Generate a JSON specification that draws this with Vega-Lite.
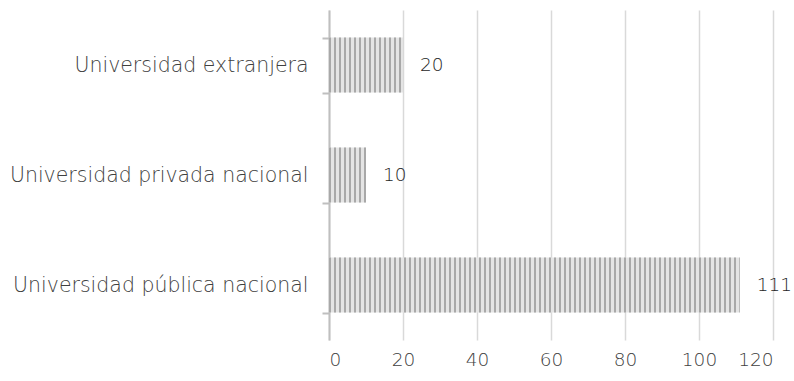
{
  "$schema": "https://vega.github.io/schema/vega-lite/v6.json",
  "width": 444,
  "height": 330,
  "autosize": {"type": "none"},
  "padding": {"left": 329, "top": 10, "right": 21, "bottom": 41},
  "background": "white",
  "config": {"view": {"stroke": null}, "font": "DejaVu Sans"},
  "data": {"values": [
    {"categoria": "Universidad extranjera", "valor": 20},
    {"categoria": "Universidad privada nacional", "valor": 10},
    {"categoria": "Universidad pública nacional", "valor": 111}
  ]},
  "encoding": {
    "y": {"field": "categoria", "type": "nominal", "sort": null, "title": null,
      "scale": {"paddingInner": 0.5, "paddingOuter": 0.25},
      "axis": {"domainColor": "#bfbfbf", "domainWidth": 2, "tickColor": "#bfbfbf", "tickWidth": 2, "tickSize": 7, "tickBand": "extent", "labelPadding": 14, "labelFontSize": 20.5, "labelFontWeight": 300, "labelColor": "#404040", "labelLimit": 400}},
    "x": {"field": "valor", "type": "quantitative", "title": null,
      "scale": {"domain": [0, 120]},
      "axis": {"values": [0, 20, 40, 60, 80, 100, 120], "domain": false, "ticks": false, "gridColor": "#d9d9d9", "gridWidth": 1.5, "labelPadding": 10, "labelFontSize": 18.5, "labelFontWeight": 300, "labelColor": "#404040"}}
  },
  "layer": [
    {"mark": {"type": "bar", "color": "#e4e4e4"}},
    {"mark": {"type": "rule", "color": "#a8a8a8", "strokeWidth": 55, "strokeDash": [2, 3], "strokeCap": "butt"},
     "encoding": {"x": {"datum": 0}, "x2": {"field": "valor"}}},
    {"mark": {"type": "text", "align": "left", "dx": 17, "fontSize": 18.5, "fontWeight": 300, "color": "#262626"},
     "encoding": {"text": {"field": "valor", "type": "quantitative"}}}
  ]
}
